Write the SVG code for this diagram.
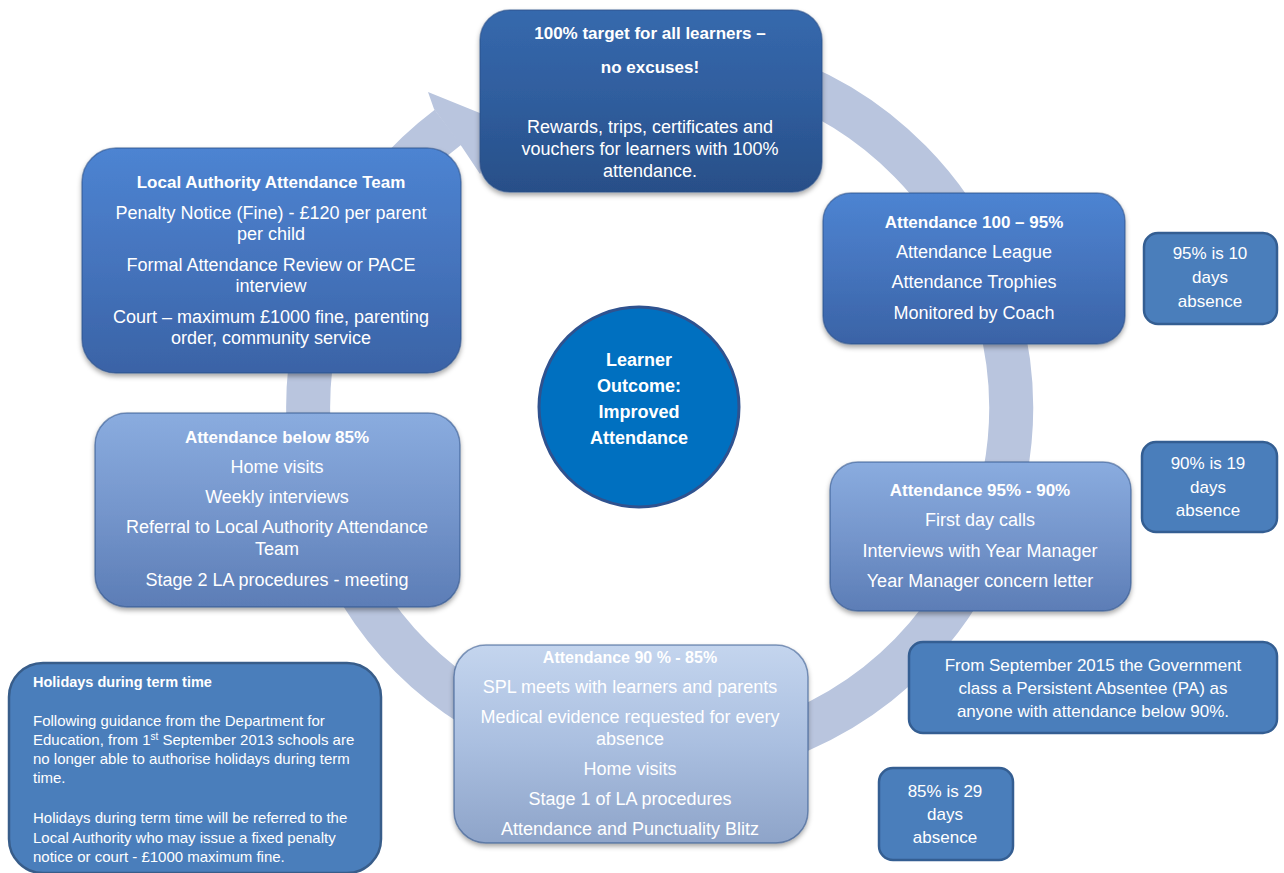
<svg xmlns="http://www.w3.org/2000/svg" width="1284" height="873" viewBox="0 0 1284 873">
<defs>
<style>
.t{font-family:"Liberation Sans",Arial,sans-serif;fill:#ffffff;text-anchor:middle;font-size:18px}
.b{font-weight:bold;font-size:17px}
.s{font-size:17px}
.h{font-size:15px;text-anchor:start}
.hb{font-weight:bold;font-size:14.5px;text-anchor:start}
.c{font-weight:bold;font-size:18px}
.box{stroke:#2a4f86;stroke-opacity:0.55;stroke-width:1.5}
.note{fill:#4a7ebb;stroke:#345e92;stroke-width:2.5}
</style>
<filter id="sh" x="-10%" y="-10%" width="120%" height="130%">
<feDropShadow dx="0" dy="3" stdDeviation="2.5" flood-color="#000" flood-opacity="0.35"/>
</filter>
<linearGradient id="gTop" x1="0" y1="0" x2="0" y2="1">
<stop offset="0" stop-color="#3669ad"/><stop offset="0.5" stop-color="#2f5d9d"/><stop offset="1" stop-color="#284f88"/>
</linearGradient>
<linearGradient id="gMid" x1="0" y1="0" x2="0" y2="1">
<stop offset="0" stop-color="#4d84d2"/><stop offset="0.5" stop-color="#4574bd"/><stop offset="1" stop-color="#3a63a6"/>
</linearGradient>
<linearGradient id="gLight" x1="0" y1="0" x2="0" y2="1">
<stop offset="0" stop-color="#8aacdf"/><stop offset="0.5" stop-color="#7596cc"/><stop offset="1" stop-color="#5c7db6"/>
</linearGradient>
<linearGradient id="gPale" x1="0" y1="0" x2="0" y2="1">
<stop offset="0" stop-color="#c4d5ee"/><stop offset="0.5" stop-color="#aabfe0"/><stop offset="1" stop-color="#8ea4c9"/>
</linearGradient>
</defs>
<rect width="1284" height="873" fill="#ffffff"/>

<g id="connectors">
<path d="M 598.5 61.8 A 351.5 351.5 0 1 1 448 127.3" fill="none" stroke="#b9c5de" stroke-width="44"/>
<polygon points="428,92 507,124 480,174 462,147 434,109" fill="#b9c5de"/>
</g>

<g id="node-target">
<rect x="480" y="10" width="342" height="182" rx="30" fill="url(#gTop)" class="box" filter="url(#sh)"/>
<text class="t b" x="650" y="39">100% target for all learners –</text>
<text class="t b" x="650" y="73">no excuses!</text>
<text class="t" x="650" y="133">Rewards, trips, certificates and</text>
<text class="t" x="650" y="155">vouchers for learners with 100%</text>
<text class="t" x="650" y="177">attendance.</text>
</g>

<g id="node-la-team">
<rect x="82" y="148" width="379" height="225" rx="34" fill="url(#gMid)" class="box" filter="url(#sh)"/>
<text class="t b" x="271" y="188">Local Authority Attendance Team</text>
<text class="t" x="271" y="219">Penalty Notice (Fine) - £120 per parent</text>
<text class="t" x="271" y="240">per child</text>
<text class="t" x="271" y="271">Formal Attendance Review or PACE</text>
<text class="t" x="271" y="292">interview</text>
<text class="t" x="271" y="323">Court – maximum £1000 fine, parenting</text>
<text class="t" x="271" y="344">order, community service</text>
</g>

<g id="node-100-95">
<rect x="823" y="193" width="302" height="151" rx="28" fill="url(#gMid)" class="box" filter="url(#sh)"/>
<text class="t b" x="974" y="228">Attendance 100 – 95%</text>
<text class="t" x="974" y="258">Attendance League</text>
<text class="t" x="974" y="288">Attendance Trophies</text>
<text class="t" x="974" y="319">Monitored by Coach</text>
</g>

<g id="note-95">
<rect x="1144" y="233" width="133" height="91" rx="14" class="note"/>
<text class="t s" x="1210" y="259">95% is 10</text>
<text class="t s" x="1210" y="283">days</text>
<text class="t s" x="1210" y="307">absence</text>
</g>

<g id="node-95-90">
<rect x="830" y="462" width="301" height="149" rx="28" fill="url(#gLight)" class="box" filter="url(#sh)"/>
<text class="t b" x="980" y="496">Attendance 95% - 90%</text>
<text class="t" x="980" y="526">First day calls</text>
<text class="t" x="980" y="557">Interviews with Year Manager</text>
<text class="t" x="980" y="587">Year Manager concern letter</text>
</g>

<g id="note-90">
<rect x="1142" y="442" width="135" height="90" rx="14" class="note"/>
<text class="t s" x="1208" y="469">90% is 19</text>
<text class="t s" x="1208" y="493">days</text>
<text class="t s" x="1208" y="516">absence</text>
</g>

<g id="node-below-85">
<rect x="95" y="413" width="365" height="194" rx="32" fill="url(#gLight)" class="box" filter="url(#sh)"/>
<text class="t b" x="277" y="443">Attendance below 85%</text>
<text class="t" x="277" y="473">Home visits</text>
<text class="t" x="277" y="503">Weekly interviews</text>
<text class="t" x="277" y="533">Referral to Local Authority Attendance</text>
<text class="t" x="277" y="555">Team</text>
<text class="t" x="277" y="586">Stage 2 LA procedures - meeting</text>
</g>

<g id="node-90-85">
<rect x="454" y="645" width="354" height="198" rx="32" fill="url(#gPale)" class="box" filter="url(#sh)"/>
<text class="t b" x="630" y="663" style="font-size:16px">Attendance 90 % - 85%</text>
<text class="t" x="630" y="693">SPL meets with learners and parents</text>
<text class="t" x="630" y="723">Medical evidence requested for every</text>
<text class="t" x="630" y="745">absence</text>
<text class="t" x="630" y="775">Home visits</text>
<text class="t" x="630" y="805">Stage 1 of LA procedures</text>
<text class="t" x="630" y="835">Attendance and Punctuality Blitz</text>
</g>

<g id="note-pa">
<rect x="909" y="642" width="368" height="91" rx="14" class="note"/>
<text class="t s" x="1093" y="671">From September 2015 the Government</text>
<text class="t s" x="1093" y="694">class a Persistent Absentee (PA) as</text>
<text class="t s" x="1093" y="717">anyone with attendance below 90%.</text>
</g>

<g id="note-85">
<rect x="879" y="768" width="134" height="92" rx="14" class="note"/>
<text class="t s" x="945" y="797">85% is 29</text>
<text class="t s" x="945" y="820">days</text>
<text class="t s" x="945" y="843">absence</text>
</g>

<g id="note-holidays">
<rect x="9" y="663" width="372" height="210" rx="34" fill="#4a7ebb" stroke="#385d8a" stroke-width="2.5"/>
<text class="t hb" x="33" y="687">Holidays during term time</text>
<text class="t h" x="33" y="726">Following guidance from the Department for</text>
<text class="t h" x="33" y="745">Education, from 1<tspan dy="-5" style="font-size:10px">st</tspan><tspan dy="5"> September 2013 schools are</tspan></text>
<text class="t h" x="33" y="764">no longer able to authorise holidays during term</text>
<text class="t h" x="33" y="783">time.</text>
<text class="t h" x="33" y="823">Holidays during term time will be referred to the</text>
<text class="t h" x="33" y="843">Local Authority who may issue a fixed penalty</text>
<text class="t h" x="33" y="862">notice or court - £1000 maximum fine.</text>
</g>

<g id="node-outcome">
<circle cx="639" cy="407" r="100" fill="#0070c0" stroke="#2f528f" stroke-width="3"/>
<text class="t c" x="639" y="366">Learner</text>
<text class="t c" x="639" y="392">Outcome:</text>
<text class="t c" x="639" y="418">Improved</text>
<text class="t c" x="639" y="444">Attendance</text>
</g>
</svg>
